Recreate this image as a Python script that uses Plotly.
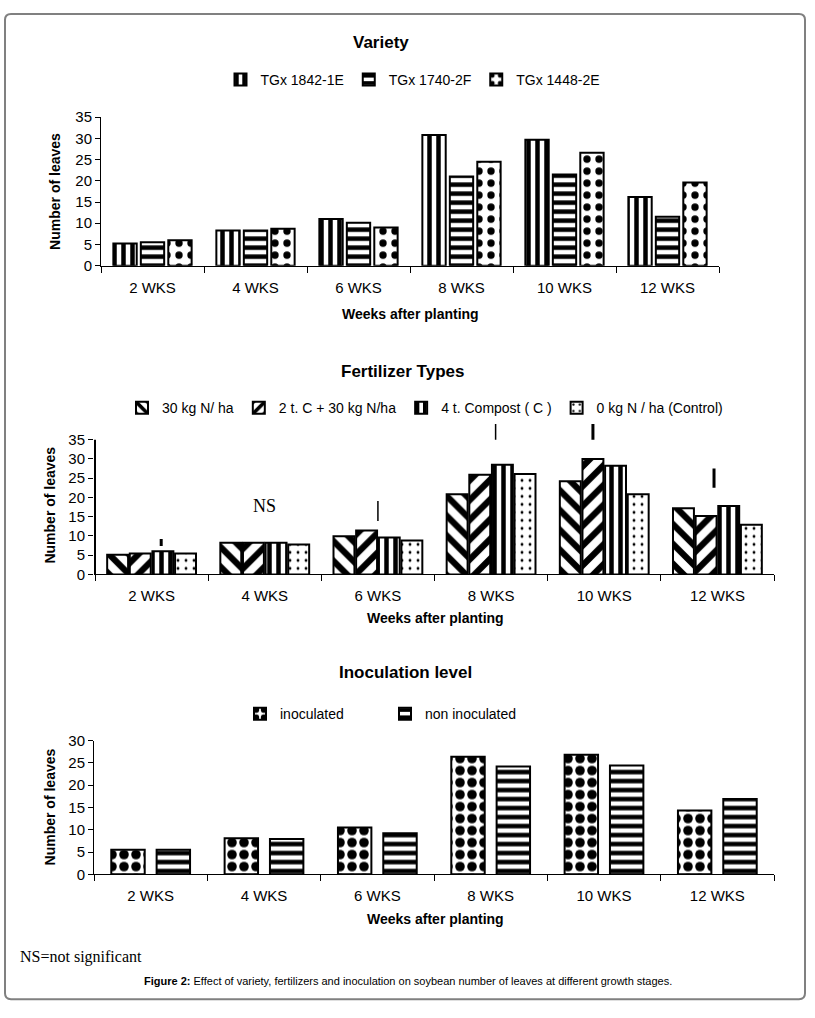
import plotly.graph_objects as go

W, H = 815, 1018

weeks = ["2 WKS", "4 WKS", "6 WKS", "8 WKS", "10 WKS", "12 WKS"]

# Variety
variety_names = ["TGx 1842-1E", "TGx 1740-2F", "TGx 1448-2E"]
tgx_1842 = [5.2, 8.3, 11.0, 30.8, 29.7, 16.2]
tgx_1740 = [5.5, 8.3, 10.1, 21.0, 21.5, 11.5]
tgx_1448 = [6.0, 8.7, 9.0, 24.5, 26.6, 19.6]

# Fertilizer types
fert_names = ["30 kg N/ ha", "2 t. C + 30 kg N/ha", "4 t. Compost ( C )", "0 kg N / ha (Control)"]
fert_30n = [5.1, 8.2, 9.9, 20.8, 24.2, 17.2]
fert_2c30n = [5.4, 8.2, 11.4, 25.9, 30.0, 15.2]
fert_4c = [6.0, 8.2, 9.6, 28.5, 28.2, 17.8]
fert_0n = [5.4, 7.8, 8.8, 26.1, 20.8, 12.9]
# LSD bars drawn above the groups (None = not significant)
lsd_low = [7.4, None, 13.9, 35.0, 35.0, 22.5]
lsd_high = [9.2, None, 19.1, 39.1, 39.1, 27.5]
ns_week = "4 WKS"
ns_value = 17.8

# Inoculation
inoc_names = ["inoculated", "non inoculated"]
inoculated = [5.5, 8.1, 10.5, 26.4, 26.8, 14.3]
non_inoculated = [5.5, 7.9, 9.2, 24.2, 24.4, 16.9]


def px(x):
    return x / W


def py(y):
    return 1 - y / H


def bar(name, y, shape, size, solidity, xa, ya, legend, width):
    return go.Bar(
        name=name, x=weeks, y=y, xaxis=xa, yaxis=ya, legend=legend, width=width,
        marker=dict(
            color="white",
            line=dict(color="black", width=2),
            pattern=dict(shape=shape, fgcolor="#000000", bgcolor="white", fgopacity=1,
                         fillmode="replace", size=size, solidity=solidity),
        ),
    )


fig = go.Figure()
w1, w2, w3 = 0.68 / 3, 0.74 / 4, 0.59 / 2
fig.add_trace(bar(variety_names[0], tgx_1842, "|", 9, 0.5, "x", "y", "legend", w1))
fig.add_trace(bar(variety_names[1], tgx_1740, "-", 9, 0.5, "x", "y", "legend", w1))
fig.add_trace(bar(variety_names[2], tgx_1448, ".", 12, 0.3, "x", "y", "legend", w1))

fig.add_trace(bar(fert_names[0], fert_30n, "\\", 14, 0.45, "x2", "y2", "legend2", w2))
fig.add_trace(bar(fert_names[1], fert_2c30n, "/", 14, 0.45, "x2", "y2", "legend2", w2))
fig.add_trace(bar(fert_names[2], fert_4c, "|", 9, 0.5, "x2", "y2", "legend2", w2))
fig.add_trace(bar(fert_names[3], fert_0n, ".", 8, 0.1, "x2", "y2", "legend2", w2))

fig.add_trace(bar(inoc_names[0], inoculated, ".", 12, 0.5, "x3", "y3", "legend3", w3))
fig.add_trace(bar(inoc_names[1], non_inoculated, "-", 9, 0.5, "x3", "y3", "legend3", w3))

tickfont = dict(family="Liberation Sans", size=15, color="black")

xax = dict(type="category", showline=True, linecolor="black", linewidth=1,
           ticks="outside", tickson="boundaries", ticklen=6, tickcolor="black",
           tickfont=tickfont, showgrid=False, zeroline=False, ticklabelstandoff=8)
yax = dict(showline=True, linecolor="black", linewidth=1, ticks="outside",
           ticklen=5, tickcolor="black", tickfont=tickfont, showgrid=False,
           zeroline=False, dtick=5)

legend_base = dict(orientation="h", xanchor="center", yanchor="middle",
                   font=dict(size=14), itemwidth=30, bgcolor="rgba(0,0,0,0)")

fig.update_layout(
    width=W, height=H,
    margin=dict(l=0, r=0, t=0, b=0),
    paper_bgcolor="white", plot_bgcolor="white",
    font=dict(family="Liberation Sans", color="black"),
    barmode="group",
    xaxis=dict(xax, domain=[px(101), px(719)], anchor="y"),
    yaxis=dict(yax, domain=[py(261), py(110)], range=[0, 35], anchor="x"),
    xaxis2=dict(xax, domain=[px(94), px(774)], anchor="y2"),
    yaxis2=dict(yax, domain=[py(575), py(575 - 137 / 35 * 40)], range=[0, 40],
                tickvals=[0, 5, 10, 15, 20, 25, 30, 35], showline=False, anchor="x2"),
    xaxis3=dict(xax, domain=[px(94), px(774)], anchor="y3"),
    yaxis3=dict(yax, domain=[py(880), py(744)], range=[0, 30], anchor="x3"),
    legend=dict(legend_base, x=px(413), y=py(72)),
    legend2=dict(legend_base, x=px(425), y=py(406)),
    legend3=dict(legend_base, x=px(385), y=py(717), entrywidth=100),
)

shapes = []
# y axis line of the middle chart only up to 35
shapes.append(dict(type="line", xref="x2", yref="y2", x0=-0.5, x1=-0.5, y0=0, y1=35,
                   line=dict(color="black", width=2)))
lsd_offset = [0.085, 0, 0.0, 0.04, -0.1, -0.03]
lsd_width = [3, 0, 1.5, 1.5, 3, 3]
for i, (lo, hi) in enumerate(zip(lsd_low, lsd_high)):
    if lo is None:
        continue
    shapes.append(dict(type="line", xref="x2", yref="y2", x0=i + lsd_offset[i],
                       x1=i + lsd_offset[i], y0=lo, y1=hi,
                       line=dict(color="black", width=lsd_width[i])))
# rounded frame around the figure
r = 6
x0, x1, y0, y1 = 5, 805, 5, 1007
path = (f"M{px(x0 + r)},{py(y0)} L{px(x1 - r)},{py(y0)} Q{px(x1)},{py(y0)} {px(x1)},{py(y0 + r)} "
        f"L{px(x1)},{py(y1 - r)} Q{px(x1)},{py(y1)} {px(x1 - r)},{py(y1)} "
        f"L{px(x0 + r)},{py(y1)} Q{px(x0)},{py(y1)} {px(x0)},{py(y1 - r)} "
        f"L{px(x0)},{py(y0 + r)} Q{px(x0)},{py(y0)} {px(x0 + r)},{py(y0)} Z")
shapes.append(dict(type="path", xref="paper", yref="paper", path=path,
                   line=dict(color="#808080", width=2)))
fig.update_layout(shapes=shapes)

title_font = dict(family="Liberation Sans", size=17, color="black")
axis_font = dict(family="Liberation Sans", size=14, color="black")


def note(text, x, y, font, xanchor="center", **kw):
    fig.add_annotation(text=text, x=px(x), y=py(y), xref="paper", yref="paper",
                       xanchor=xanchor, yanchor="middle", showarrow=False, font=font, **kw)


note("<b>Variety</b>", 381, 34, title_font)
note("<b>Fertilizer Types</b>", 402, 369, title_font)
note("<b>Inoculation level</b>", 405, 675, title_font)
note("<b>Weeks after planting</b>", 410, 310, axis_font)
note("<b>Weeks after planting</b>", 435, 619, axis_font)
note("<b>Weeks after planting</b>", 435, 925, axis_font)
note("<b>Number of leaves</b>", 55, 186, axis_font, textangle=-90)
note("<b>Number of leaves</b>", 50, 505, axis_font, textangle=-90)
note("<b>Number of leaves</b>", 50, 812, axis_font, textangle=-90)
note("NS=not significant", 18, 964, dict(family="Liberation Serif", size=16, color="black"),
     xanchor="left")
note("<b>Figure 2:</b> Effect of variety, fertilizers and inoculation on soybean number of leaves at different growth stages.",
     408, 988, dict(family="Liberation Sans", size=11, color="black"))

fig.add_annotation(text="NS", x=ns_week, y=ns_value, xref="x2", yref="y2", showarrow=False,
                   font=dict(family="Liberation Serif", size=18, color="black"))

fig.write_html("out.html", config={"displayModeBar": False},
               post_script="document.body.style.margin='0';")
